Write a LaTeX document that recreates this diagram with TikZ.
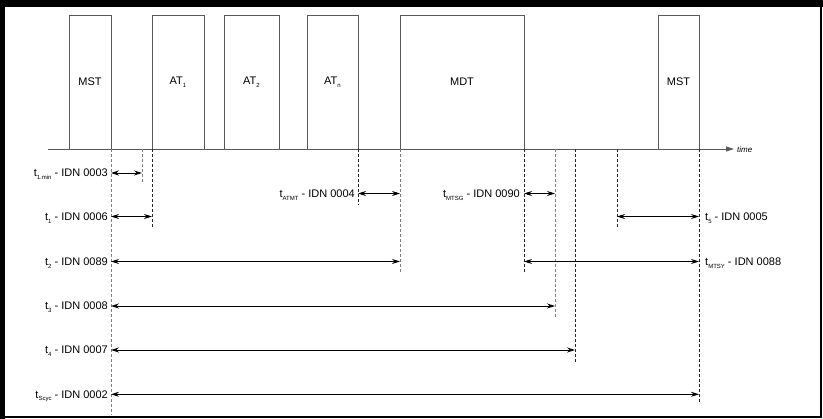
\documentclass[tikz,border=0pt]{standalone}
\usepackage{fontspec}
\setmainfont{Liberation Sans}
\usetikzlibrary{arrows.meta}
\newcommand{\lowsub}[1]{\raisebox{-2.6pt}{\fontsize{6}{6}\selectfont #1}}
\begin{document}
\begin{tikzpicture}[x=1pt,y=-1pt,
  slot/.style={draw=black!65, line width=0.8pt, fill=white, inner sep=0pt, outer sep=0pt, anchor=north west, minimum height=134pt},
  guide/.style={dash pattern=on 3pt off 2pt, line width=0.7pt, draw=black!85},
  guideg/.style={guide, draw=black!50},
  span/.style={{Stealth[length=8pt,width=5pt]}-{Stealth[length=8pt,width=5pt]}, line width=0.8pt},
  lbl/.style={font=\fontsize{11}{13}\selectfont, inner sep=0pt},
  boxlbl/.style={font=\fontsize{11}{13}\selectfont, inner sep=0pt},
  ]
\useasboundingbox (0,0) rectangle (823,419);
% frame
\fill (0,0) rectangle (823,7);
\fill (0,0) rectangle (5,419);
\draw[line width=1.6pt] (821.2,7) -- (821.2,417.2) -- (5,417.2);

% slots
\node[slot, minimum width=42pt]  (mst1) at (69,15) {};
\node[slot, minimum width=52pt]  (at1)  at (152,15) {};
\node[slot, minimum width=55pt]  (at2)  at (224,15) {};
\node[slot, minimum width=51pt]  (atn)  at (307,15) {};
\node[slot, minimum width=124pt] (mdt)  at (400,15) {};
\node[slot, minimum width=41pt]  (mst2) at (658,15) {};

\node[boxlbl] at (mst1.center) {MST};
\node[boxlbl] at (at1.center) {AT\lowsub{1}};
\node[boxlbl] at (at2.center) {AT\lowsub{2}};
\node[boxlbl] at (atn.center) {AT\lowsub{n}};
\node[boxlbl] at (mdt.center) {MDT};
\node[boxlbl] at (mst2.center) {MST};

% time axis
\coordinate (ax0) at (48,149);
\coordinate (ax1) at (734,149);
\draw[draw=black!65, line width=0.9pt, -{Stealth[length=8pt,width=5pt,inset=0pt]}] (ax0) -- (ax1);
\node[anchor=west, inner sep=0pt, font=\itshape\fontsize{8}{9}\selectfont] (timelbl) at (737,149.5) {time};

% guide line ends
\coordinate (g1a) at (142,149);   \coordinate (g1b) at (142,182);
\coordinate (g2a) at (555,149);   \coordinate (g2b) at (555,317);
\coordinate (g3a) at (575,149);   \coordinate (g3b) at (575,362);
\coordinate (g4a) at (617,149);   \coordinate (g4b) at (617,227);
\coordinate (mst1b) at (111,415);
\coordinate (at1b) at (152,228);
\coordinate (atnb) at (358,205);
\coordinate (mdtlb) at (400,272);
\coordinate (mdtrb) at (524,272);
\coordinate (mst2b) at (699,403);

\draw[guideg] (mst1.south east) -- (mst1b);
\draw[guideg] (g1a) -- (g1b);
\draw[guide]  (at1.south west) -- (at1b);
\draw[guide]  (atn.south east) -- (atnb);
\draw[guideg] (mdt.south west) -- (mdtlb);
\draw[guide]  (mdt.south east) -- (mdtrb);
\draw[guideg] (g2a) -- (g2b);
\draw[guide]  (g3a) -- (g3b);
\draw[guide]  (g4a) -- (g4b);
\draw[guide]  (mst2.south east) -- (mst2b);

% spans
\coordinate (s1a) at (111,173); \coordinate (s1b) at (142,173);
\coordinate (s2a) at (358,193.5); \coordinate (s2b) at (400,193.5);
\coordinate (s3a) at (524,193.5); \coordinate (s3b) at (555,193.5);
\coordinate (s4a) at (111,216.5); \coordinate (s4b) at (152,216.5);
\coordinate (s5a) at (617,216.5); \coordinate (s5b) at (699,216.5);
\coordinate (s6a) at (111,261.5); \coordinate (s6b) at (400,261.5);
\coordinate (s7a) at (524,261.5); \coordinate (s7b) at (699,261.5);
\coordinate (s8a) at (111,306); \coordinate (s8b) at (555,306);
\coordinate (s9a) at (111,350); \coordinate (s9b) at (575,350);
\coordinate (s10a) at (111,394.3); \coordinate (s10b) at (699,394.3);

\draw[span] (s1a) -- (s1b);
\draw[span] (s2a) -- (s2b);
\draw[span] (s3a) -- (s3b);
\draw[span] (s4a) -- (s4b);
\draw[span] (s5a) -- (s5b);
\draw[span] (s6a) -- (s6b);
\draw[span] (s7a) -- (s7b);
\draw[span] (s8a) -- (s8b);
\draw[span] (s9a) -- (s9b);
\draw[span] (s10a) -- (s10b);

% labels
\node[lbl, anchor=base east] (l1) at (108,177) {t\lowsub{1.min} - IDN 0003};
\node[lbl, anchor=base east] (l2) at (355,197.5) {t\lowsub{ATMT} - IDN 0004};
\node[lbl, anchor=base east] (l3) at (520,197.5) {t\lowsub{MTSG} - IDN 0090};
\node[lbl, anchor=base east] (l4) at (108,220.5) {t\lowsub{1} - IDN 0006};
\node[lbl, anchor=base west] (l5) at (705,220.5) {t\lowsub{5} - IDN 0005};
\node[lbl, anchor=base east] (l6) at (108,265.5) {t\lowsub{2} - IDN 0089};
\node[lbl, anchor=base west] (l7) at (705,265.5) {t\lowsub{MTSY} - IDN 0088};
\node[lbl, anchor=base east] (l8) at (108,310) {t\lowsub{3} - IDN 0008};
\node[lbl, anchor=base east] (l9) at (108,354) {t\lowsub{4} - IDN 0007};
\node[lbl, anchor=base east] (l10) at (108,398.3) {t\lowsub{Scyc} - IDN 0002};
\end{tikzpicture}
\end{document}
